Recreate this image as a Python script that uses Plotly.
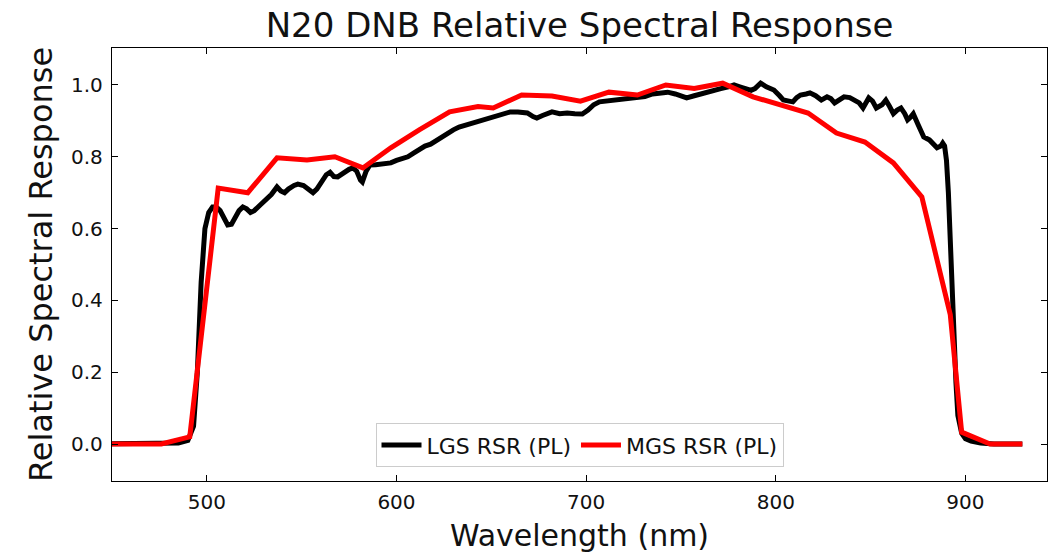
import plotly.graph_objects as go

# LGS RSR (black) - wavelength (nm) and response
lgs_wl = [440, 450, 470, 485, 490, 493, 495, 497, 499, 501, 503, 505, 507, 509, 511, 513, 515, 517, 519,
          521, 523, 525, 528, 531, 534, 537, 539, 541, 543, 546, 548, 551, 554, 556, 558, 561, 563, 565,
          567, 569, 572, 575, 577, 579, 581, 582, 584, 586, 589, 592, 595, 597, 600, 603, 606, 609, 612,
          615, 618, 621, 623, 626, 630, 633, 636, 640, 644, 648, 652, 656, 660, 664, 669, 672, 674, 677,
          680, 682, 686, 690, 694, 698, 701, 704, 707, 711, 715, 718, 722, 727, 731, 735, 739, 743, 747,
          750, 753, 757, 762, 766, 771, 775, 778, 781, 784, 787, 789, 792, 795, 799, 802, 804, 807, 809,
          811, 813, 816, 818, 821, 824, 827, 829, 831, 834, 836, 839, 841, 844, 846, 849, 851, 853, 856,
          858, 860, 862, 864, 866, 868, 869.5, 871, 872.5, 875, 878, 881, 883, 885, 887, 888, 889, 890,
          891, 892, 893, 894, 895, 896, 898, 900, 903, 908, 915, 930]
lgs_rsr = [0.0, 0.0, 0.0, 0.003, 0.01, 0.05, 0.2, 0.45, 0.6, 0.645, 0.66, 0.66, 0.65, 0.63, 0.61, 0.612, 0.63, 0.65, 0.66,
           0.655, 0.645, 0.65, 0.665, 0.68, 0.695, 0.716, 0.705, 0.70, 0.71, 0.72, 0.724, 0.72, 0.71, 0.70, 0.71, 0.735, 0.75, 0.757,
           0.745, 0.744, 0.755, 0.765, 0.769, 0.76, 0.735, 0.73, 0.76, 0.777, 0.778, 0.78, 0.782, 0.783, 0.79, 0.795, 0.80, 0.81, 0.82,
           0.83, 0.835, 0.845, 0.855, 0.862, 0.875, 0.883, 0.888, 0.895, 0.90, 0.908, 0.913, 0.92, 0.925, 0.925, 0.922, 0.912, 0.908, 0.915,
           0.922, 0.925, 0.92, 0.922, 0.92, 0.919, 0.93, 0.945, 0.953, 0.955, 0.957, 0.958, 0.96, 0.964, 0.968, 0.975, 0.978, 0.98, 0.975,
           0.968, 0.964, 0.97, 0.978, 0.984, 0.99, 0.995, 1.0, 0.995, 0.99, 0.985, 0.99, 1.005, 0.995, 0.986, 0.97, 0.958, 0.955, 0.953,
           0.965, 0.972, 0.975, 0.978, 0.97, 0.958, 0.967, 0.962, 0.95, 0.96, 0.967, 0.965, 0.958, 0.95, 0.936, 0.964, 0.955, 0.936, 0.945,
           0.958, 0.94, 0.92, 0.93, 0.936, 0.92, 0.903, 0.91, 0.92, 0.89, 0.855, 0.847, 0.835, 0.825, 0.83, 0.838, 0.83, 0.79,
           0.7, 0.55, 0.43, 0.3, 0.17, 0.08, 0.03, 0.015, 0.008, 0.003, 0.0, 0.0]

# MGS RSR (red)
mgs_wl = [440, 476, 491, 506, 521.6, 537, 552.8, 567.5, 582.3, 597, 612, 628, 643, 651, 666, 682, 697, 712, 727,
          742, 757, 772, 788, 802, 817, 832, 847, 862, 877, 892, 898, 913, 930]
mgs_rsr = [0.0, 0.0, 0.02, 0.713, 0.70, 0.797, 0.791, 0.80, 0.769, 0.825, 0.875, 0.925, 0.94, 0.936, 0.972, 0.969, 0.955, 0.98, 0.972,
           1.0, 0.99, 1.005, 0.967, 0.945, 0.922, 0.866, 0.841, 0.783, 0.688, 0.36, 0.033, 0.0, 0.0]

x_ticks = [500, 600, 700, 800, 900]
y_ticks = [0.0, 0.2, 0.4, 0.6, 0.8, 1.0]
y_tick_text = ["0.0", "0.2", "0.4", "0.6", "0.8", "1.0"]

FONT = "DejaVu Sans"

fig = go.Figure()
fig.add_trace(go.Scatter(x=lgs_wl, y=lgs_rsr, mode="lines", name="LGS RSR (PL)",
                         line=dict(color="black", width=5)))
fig.add_trace(go.Scatter(x=mgs_wl, y=mgs_rsr, mode="lines", name="MGS RSR (PL)",
                         line=dict(color="#ff0000", width=5)))

axis_common = dict(showgrid=False, zeroline=False, showline=True, linecolor="black", linewidth=1.3,
                   mirror="ticks", ticks="inside", ticklen=6, tickwidth=1.2, tickcolor="black",
                   tickfont=dict(family=FONT, size=20, color="#111"))

fig.update_xaxes(range=[450, 943], tickvals=x_ticks, ticktext=[str(v) for v in x_ticks],
                 ticklabelstandoff=3,
                 title=dict(text="Wavelength (nm)", font=dict(family=FONT, size=30, color="#111"), standoff=12),
                 **axis_common)
fig.update_yaxes(range=[-0.103, 1.103], tickvals=y_ticks, ticktext=y_tick_text,
                 ticklabelstandoff=4,
                 title=dict(text="Relative Spectral Response", font=dict(family=FONT, size=32, color="#111"), standoff=8),
                 **axis_common)

fig.update_layout(
    width=1048, height=553,
    margin=dict(l=112, r=1, t=48, b=72, autoexpand=False),
    paper_bgcolor="white", plot_bgcolor="white",
    title=dict(text="N20 DNB Relative Spectral Response", x=0.5, xref="paper", xanchor="center",
               y=1 - 25 / 553, yanchor="middle", font=dict(family=FONT, size=34, color="#111")),
    legend=dict(orientation="h", x=0.5, xanchor="center", y=0.032, yanchor="bottom",
                bgcolor="rgba(255,255,255,0.85)", bordercolor="#cccccc", borderwidth=1,
                font=dict(family=FONT, size=22, color="#111"), itemwidth=40),
    showlegend=True,
)

fig.write_html("out.html")
